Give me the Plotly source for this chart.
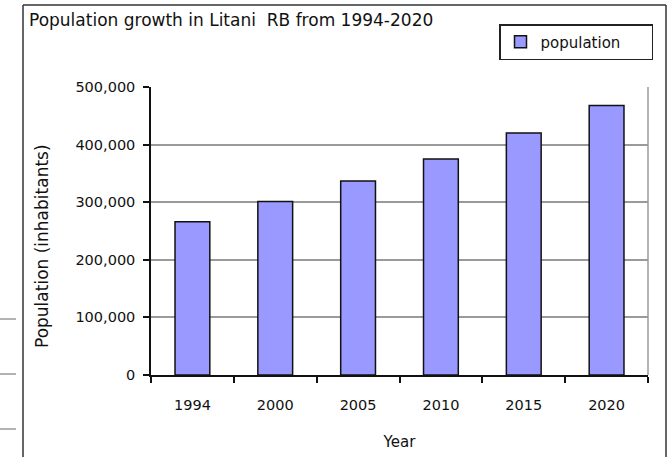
import plotly.graph_objects as go

# Population of the Litani river basin, census/projection years
years = ["1994", "2000", "2005", "2010", "2015", "2020"]
population = [266000, 301000, 337000, 375000, 420000, 468000]
y_ticks = [0, 100000, 200000, 300000, 400000, 500000]

W, H = 669, 457
L, R, T, B = 151, 21, 87, 82          # plot-area margins in px
PW, PH = W - L - R, H - T - B

FONT = "DejaVu Sans"


def px(x):
    """Horizontal pixel position -> paper fraction."""
    return (x - L) / PW


def py(y):
    """Vertical pixel position (from top) -> paper fraction."""
    return (H - B - y) / PH


fig = go.Figure()
fig.add_trace(go.Bar(
    x=years,
    y=population,
    name="population",
    marker=dict(color="#9999FF", line=dict(color="#111111", width=1.5)),
))

shapes = [
    # right edge of the plot frame
    dict(type="line", xref="paper", yref="paper", x0=1, x1=1, y0=0, y1=1,
         line=dict(color="#9a9a9a", width=1.5), layer="below"),
    # outer chart border (open at the bottom)
    dict(type="line", xref="paper", yref="paper", x0=px(23), x1=px(23), y0=py(5), y1=py(H + 2),
         line=dict(color="#333333", width=1.5)),
    dict(type="line", xref="paper", yref="paper", x0=px(23), x1=px(666), y0=py(5), y1=py(5),
         line=dict(color="#333333", width=1.5)),
    dict(type="line", xref="paper", yref="paper", x0=px(666), x1=px(666), y0=py(5), y1=py(H + 2),
         line=dict(color="#333333", width=1.5)),
]
# short rule ends of the surrounding page on the far left
for yy in (319, 374, 429):
    shapes.append(dict(type="line", xref="paper", yref="paper", x0=px(0), x1=px(16),
                       y0=py(yy), y1=py(yy), line=dict(color="#999999", width=1.5)))

fig.update_layout(
    width=W, height=H,
    margin=dict(l=L, r=R, t=T, b=B, autoexpand=False),
    paper_bgcolor="white", plot_bgcolor="white",
    font=dict(family=FONT, size=14, color="#111111"),
    bargap=0.58,
    showlegend=True,
    legend=dict(
        x=px(653), xanchor="right", y=py(24), yanchor="top",
        orientation="h", entrywidth=106,
        bgcolor="white", bordercolor="#222222", borderwidth=1.5,
        font=dict(family=FONT, size=15),
    ),
    shapes=shapes,
    annotations=[
        dict(
            text="Population growth in Litani  RB from 1994-2020",
            xref="paper", yref="paper", x=px(27), y=py(20),
            xanchor="left", yanchor="middle", showarrow=False,
            font=dict(family=FONT, size=17),
        ),
        # y-axis title, set a little below the axis centre
        dict(
            text="Population (inhabitants)",
            xref="paper", yref="paper", x=px(42), y=py(246),
            xanchor="center", yanchor="middle", textangle=-90, showarrow=False,
            font=dict(family=FONT, size=17),
        ),
    ],
    xaxis=dict(
        type="category", automargin=False,
        showline=True, linecolor="#111111", linewidth=1.5,
        ticks="outside", tickson="boundaries", ticklen=6, tickcolor="#111111", tickwidth=1.5,
        ticklabelstandoff=16,
        showgrid=False,
        title=dict(text="Year", standoff=24, font=dict(family=FONT, size=15)),
        tickfont=dict(family=FONT, size=14.5),
    ),
    yaxis=dict(
        range=[0, 500000], automargin=False,
        tickvals=y_ticks, tickformat=",d",
        showline=True, linecolor="#111111", linewidth=1.5,
        ticks="outside", ticklen=6, tickcolor="#111111", tickwidth=1.5,
        ticklabelstandoff=5,
        showgrid=True, gridcolor="#9a9a9a", gridwidth=1.5,
        zeroline=False,
        tickfont=dict(family=FONT, size=14.5),
    ),
)

fig.write_html("out.html")
